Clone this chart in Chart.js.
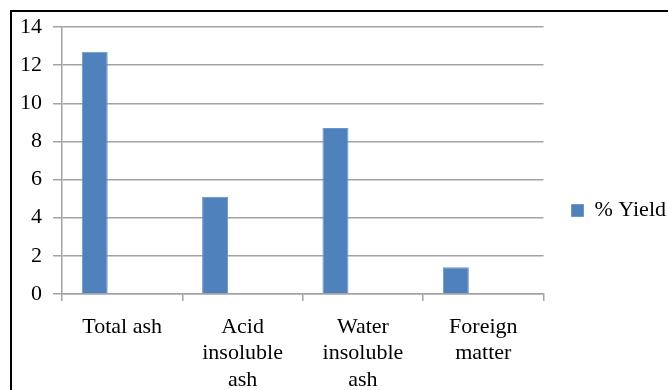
<!DOCTYPE html>
<html>
<head>
<meta charset="utf-8">
<script src="https://cdn.jsdelivr.net/npm/chart.js@4/dist/chart.umd.min.js"></script>
<style>
  html, body { margin: 0; padding: 0; background: #fff; overflow: hidden; }
  #wrap { position: relative; width: 668px; height: 390px; }
  #frame { position: absolute; left: 10px; top: 10px; width: 700px; height: 420px; border: 2px solid #000; box-sizing: border-box; }
  #myChart { position: absolute; left: 0; top: 0; }
</style>
</head>
<body>
<div id="wrap">
  <div id="frame"></div>
  <canvas id="myChart" width="668" height="390"></canvas>
</div>
<script>
// categories and values
const categories = ['Total ash', ['Acid', 'insoluble', 'ash'], ['Water', 'insoluble', 'ash'], ['Foreign', 'matter']];
const yieldValues = [12.7, 5.1, 8.7, 1.4];
const blankSeries = [null, null, null, null]; // empty second series, keeps the bars left of centre
const yTicks = [0, 2, 4, 6, 8, 10, 12, 14];

const serif = "'Liberation Serif', 'Times New Roman', serif";
const gridGrey = '#a3a3a3';

// small nudge of the legend to where it sits in the original
const legendNudge = {
    id: 'legendNudge',
    afterLayout: function (chart) {
        const lg = chart.legend;
        if (!lg) return;
        lg.left += 18; lg.right += 18;
        lg.top += 2; lg.bottom += 2;
    }
};

var ctx = document.getElementById('myChart').getContext('2d');

new Chart(ctx, {
    type: 'bar',
    data: {
        labels: categories,
        datasets: [{
            label: '% Yield',
            data: yieldValues,
            backgroundColor: '#4f81bd',
            borderColor: '#6d95c8',
            borderWidth: 1,
            categoryPercentage: 0.913,
            barPercentage: 0.473
        }, {
            label: '',
            data: blankSeries,
            backgroundColor: '#c0504d',
            categoryPercentage: 0.913,
            barPercentage: 0.473
        }]
    },
    options: {
        responsive: false,
        devicePixelRatio: 1,
        animation: false,
        layout: { padding: { top: 27, left: 0, right: 10, bottom: 0 } },
        scales: {
            x: {
                grid: {
                    display: true,
                    drawOnChartArea: false,
                    drawTicks: true,
                    tickLength: 7,
                    color: gridGrey,
                    lineWidth: 1.5
                },
                border: { display: true, color: gridGrey, width: 1.5 },
                ticks: {
                    color: '#000',
                    padding: 13,
                    maxRotation: 0,
                    autoSkip: false,
                    font: { family: serif, size: 22, lineHeight: 1.2 }
                },
                afterFit: function (scale) { scale.height = 96; }
            },
            y: {
                min: 0,
                max: 14,
                afterBuildTicks: function (scale) {
                    scale.ticks = yTicks.map(v => ({ value: v }));
                },
                grid: {
                    color: gridGrey,
                    lineWidth: 1.5,
                    tickLength: 9
                },
                border: { display: true, color: gridGrey, width: 1.5 },
                ticks: {
                    color: '#000',
                    padding: 11,
                    font: { family: serif, size: 22 }
                },
                afterFit: function (scale) { scale.width = 62; }
            }
        },
        plugins: {
            legend: {
                position: 'right',
                labels: {
                    boxWidth: 12,
                    boxHeight: 12,
                    padding: 10,
                    color: '#000',
                    textAlign: 'left',
                    font: { family: serif, size: 22 },
                    filter: function (item) { return item.text !== ''; }
                }
            },
            tooltip: { enabled: false }
        }
    },
    plugins: [legendNudge]
});
</script>
</body>
</html>
